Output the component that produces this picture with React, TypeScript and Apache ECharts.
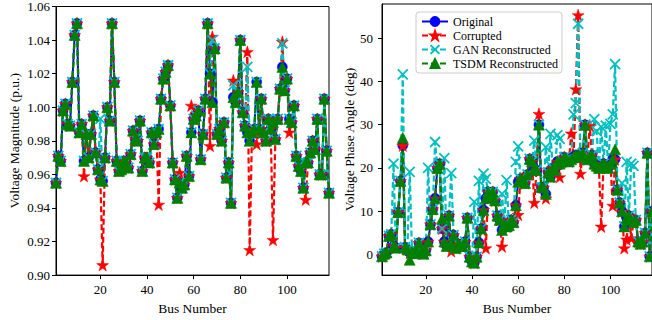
import React, { useEffect, useRef } from "react";
import * as echarts from "echarts";

// Bus index (categories)
const busNumbers: number[] = Array.from({ length: 118 }, (_, i) => i + 1);

// Tick labels
const xTicks = [20, 40, 60, 80, 100];
const vmTicks = [0.9, 0.92, 0.94, 0.96, 0.98, 1.0, 1.02, 1.04, 1.06];
const vaTicks = [0, 10, 20, 30, 40, 50];

const seriesNames = ["Original", "Corrupted", "GAN Reconstructed", "TSDM Reconstructed"];

// Voltage magnitude (p.u.)
const vmOriginal = [
  0.955, 0.971, 0.968, 0.998, 1.002, 0.990, 0.989, 1.015, 1.043, 1.050,
  0.985, 0.990, 0.968, 0.984, 0.970, 0.984, 0.995, 0.973, 0.963, 0.957,
  0.956, 0.970, 1.000, 0.992, 1.050, 1.015, 0.968, 0.962, 0.963, 0.968,
  0.967, 0.964, 0.972, 0.986, 0.981, 0.980, 0.992, 0.962, 0.970, 0.970,
  0.967, 0.985, 0.978, 0.985, 0.987, 1.005, 1.017, 1.021, 1.025, 1.001,
  0.967, 0.957, 0.946, 0.955, 0.952, 0.954, 0.971, 0.959, 0.985, 0.993,
  0.995, 0.998, 0.969, 0.984, 1.005, 1.050, 1.020, 1.003, 1.035, 0.984,
  0.987, 0.980, 0.991, 0.958, 0.967, 0.943, 1.006, 1.003, 1.009, 1.040,
  0.997, 0.989, 0.985, 0.980, 0.985, 0.987, 1.015, 0.987, 1.005, 0.985,
  0.980, 0.993, 0.987, 0.991, 0.981, 0.993, 1.011, 1.024, 1.010, 1.017,
  0.993, 0.991, 1.001, 0.971, 0.965, 0.962, 0.952, 0.967, 0.967, 0.973,
  0.980, 0.975, 0.993, 0.960, 0.960, 1.005, 0.974, 0.949,
];
const vmCorrupted = [
  0.955, 0.971, 0.968, 0.998, 1.002, 0.990, 0.989, 1.015, 1.043, 1.050,
  0.985, 0.990, 0.959, 0.984, 0.970, 0.984, 0.995, 0.973, 0.963, 0.957,
  0.906, 0.970, 1.000, 0.992, 1.050, 1.015, 0.968, 0.962, 0.963, 0.968,
  0.967, 0.964, 0.972, 0.986, 0.981, 0.980, 0.992, 0.962, 0.970, 0.970,
  0.967, 0.985, 0.978, 0.985, 0.942, 1.005, 1.017, 1.021, 1.025, 1.001,
  0.967, 0.957, 0.946, 0.961, 0.952, 0.954, 0.971, 0.959, 1.001, 0.993,
  0.995, 0.998, 0.969, 0.984, 1.005, 1.050, 0.977, 1.042, 1.035, 0.984,
  0.987, 0.980, 0.991, 0.958, 0.967, 0.943, 1.016, 1.003, 1.009, 1.040,
  0.997, 0.989, 1.033, 0.915, 0.985, 0.987, 0.978, 0.987, 1.005, 0.985,
  0.980, 0.993, 0.987, 0.921, 0.981, 0.993, 1.011, 1.039, 1.010, 1.017,
  0.985, 0.991, 1.001, 0.971, 0.965, 0.962, 0.952, 0.945, 0.967, 0.973,
  0.980, 0.975, 0.993, 0.960, 0.960, 1.005, 0.974, 0.949,
];
const vmGAN = [
  0.955, 0.971, 0.968, 0.998, 1.002, 0.990, 0.989, 1.015, 1.043, 1.050,
  0.985, 0.990, 0.968, 0.984, 0.970, 0.984, 0.995, 0.973, 0.963, 0.993,
  0.956, 0.970, 1.000, 0.992, 1.050, 1.015, 0.968, 0.962, 0.963, 0.968,
  0.967, 0.964, 0.972, 0.986, 0.981, 0.980, 0.992, 0.962, 0.970, 0.970,
  0.967, 0.985, 0.978, 0.985, 0.987, 1.005, 1.017, 1.021, 1.025, 1.001,
  0.967, 0.957, 0.946, 0.955, 0.952, 0.954, 0.971, 0.959, 0.985, 0.993,
  0.995, 0.998, 0.969, 0.984, 1.005, 1.050, 1.020, 1.040, 1.035, 0.984,
  0.987, 0.980, 0.991, 0.958, 0.967, 0.943, 1.013, 1.003, 1.009, 1.040,
  0.997, 0.989, 1.024, 0.980, 0.985, 0.987, 1.015, 0.987, 1.005, 0.985,
  0.980, 0.993, 0.987, 0.991, 0.981, 0.993, 1.011, 1.038, 1.010, 1.017,
  0.993, 0.991, 1.001, 0.971, 0.965, 0.962, 0.952, 0.967, 0.967, 0.973,
  0.980, 0.975, 0.993, 0.960, 0.960, 1.005, 0.974, 0.949,
];
const vmTSDM = [
  0.955, 0.971, 0.968, 0.998, 1.002, 0.990, 0.989, 1.015, 1.043, 1.050,
  0.985, 0.990, 0.968, 0.984, 0.970, 0.984, 0.995, 0.973, 0.963, 0.957,
  0.956, 0.970, 1.000, 0.992, 1.050, 1.015, 0.968, 0.962, 0.963, 0.968,
  0.967, 0.964, 0.972, 0.986, 0.981, 0.980, 0.992, 0.962, 0.970, 0.970,
  0.967, 0.985, 0.978, 0.985, 0.987, 1.005, 1.017, 1.021, 1.025, 1.001,
  0.967, 0.957, 0.946, 0.955, 0.952, 0.954, 0.971, 0.959, 0.985, 0.993,
  0.995, 0.998, 0.969, 0.984, 1.005, 1.050, 1.020, 1.003, 1.035, 0.984,
  0.987, 0.980, 0.991, 0.958, 0.967, 0.943, 1.006, 1.003, 1.009, 1.040,
  0.997, 0.989, 0.985, 0.980, 0.985, 0.987, 1.015, 0.987, 1.005, 0.985,
  0.980, 0.993, 0.987, 0.991, 0.981, 0.993, 1.011, 1.024, 1.010, 1.017,
  0.993, 0.991, 1.001, 0.971, 0.965, 0.962, 0.952, 0.967, 0.967, 0.973,
  0.980, 0.975, 0.993, 0.960, 0.960, 1.005, 0.974, 0.949,
];

// Voltage phase angle (deg)
const vaOriginal = [
  -0.4, 0.2, 0.5, 4.3, 4.7, 2.0, 1.6, 9.8, 17.0, 25.2,
  1.7, 1.2, 0.4, 0.5, 0.3, 0.9, 2.7, 0.6, 0.2, 1.0,
  3.0, 7.0, 10.5, 13.0, 20.0, 21.0, 6.0, 3.0, 2.0, 9.0,
  2.5, 4.5, 1.5, 2.5, 2.0, 2.0, 3.0, 8.5, -0.5, -1.6,
  -1.9, -0.5, 2.8, 6.0, 10.3, 13.0, 14.5, 13.5, 14.5, 12.5,
  9.0, 8.0, 5.7, 7.0, 6.5, 6.8, 8.0, 7.5, 11.4, 16.8,
  17.5, 17.2, 16.5, 18.5, 22.1, 21.5, 19.8, 19.5, 30.0, 15.6,
  15.5, 14.0, 19.0, 18.0, 20.0, 19.5, 21.5, 21.0, 21.5, 22.5,
  22.0, 21.5, 22.0, 22.5, 23.0, 23.0, 22.5, 23.5, 30.0, 22.0,
  22.5, 23.0, 21.0, 20.5, 20.0, 20.5, 21.0, 20.5, 20.0, 21.0,
  22.0, 22.0, 15.0, 12.0, 10.0, 6.5, 8.5, 9.0, 8.0, 7.5,
  8.0, 3.0, 2.5, 3.0, 5.0, 23.5, -0.4, 10.0,
];
const vaCorrupted = [
  -0.4, 0.2, 0.5, 4.3, 4.7, 2.0, 1.6, 9.8, 17.0, 25.2,
  1.7, 1.2, 0.4, 0.5, 0.3, 0.9, 2.7, 0.6, 0.2, 1.0,
  3.0, 7.0, 10.5, 13.0, 20.0, 21.0, 6.0, 3.0, 2.0, 9.0,
  0.8, 4.5, 1.5, 2.5, 2.0, 2.0, 3.0, 8.5, -0.5, -1.6,
  -1.9, -0.5, 2.8, 6.0, 10.3, 1.5, 14.5, 13.5, 14.5, 12.5,
  9.0, 8.0, 1.9, 7.0, 6.5, 6.8, 8.0, 7.5, 11.4, 9.2,
  17.5, 17.2, 16.5, 18.5, 22.1, 21.5, 12.0, 19.5, 32.5, 15.6,
  15.5, 13.0, 19.0, 18.0, 20.0, 19.5, 21.5, 17.9, 21.5, 22.5,
  22.0, 21.5, 28.0, 22.5, 38.2, 55.3, 18.7, 23.5, 30.0, 22.0,
  29.8, 23.0, 21.0, 20.5, 20.0, 6.5, 21.0, 20.5, 20.0, 21.0,
  11.3, 22.0, 15.0, 12.0, 10.0, 1.5, 3.5, 9.0, 3.8, 7.5,
  8.0, 3.0, 2.5, 3.0, 5.0, 23.5, -0.4, 10.0,
];
const vaGAN = [
  -0.4, 0.2, 0.5, 4.3, 4.7, 21.0, 1.6, 9.8, 17.0, 41.6,
  1.7, 1.2, 19.1, 0.5, 0.3, 0.9, 2.7, 0.6, 0.2, 1.0,
  20.0, 7.0, 10.5, 26.0, 20.0, 21.0, 6.0, 22.3, 2.0, 9.0,
  18.8, 4.5, 1.5, 2.5, 2.0, 2.0, 3.0, 8.5, -0.5, -1.6,
  12.2, -0.5, 17.0, 6.0, 18.7, 17.5, 14.5, 13.5, 14.5, 12.5,
  9.0, 8.0, 14.0, 7.0, 17.2, 6.8, 8.0, 7.5, 21.4, 25.0,
  17.5, 17.2, 16.5, 18.5, 22.1, 21.5, 26.3, 19.5, 30.0, 15.6,
  15.5, 24.8, 19.0, 27.9, 20.0, 19.5, 27.6, 26.7, 21.5, 22.5,
  22.0, 21.5, 22.0, 32.4, 35.0, 53.3, 22.5, 23.5, 30.0, 22.0,
  22.5, 23.0, 31.3, 28.5, 20.0, 29.5, 21.0, 29.8, 20.0, 30.2,
  32.4, 44.0, 15.0, 12.0, 16.5, 6.5, 21.4, 9.0, 21.0, 20.5,
  8.0, 3.0, 2.5, 3.0, 5.0, 23.5, -0.4, 10.0,
];
const vaTSDM = [
  -0.4, 0.2, 0.5, 4.3, 4.7, 2.0, 1.6, 9.8, 17.0, 27.0,
  1.7, 1.2, -1.2, 0.5, 0.3, 0.9, 2.7, 0.6, 0.2, 1.0,
  3.0, 7.0, 10.5, 13.0, 20.0, 21.0, 8.3, 3.0, 2.0, 9.0,
  2.5, 4.5, 1.5, 2.5, 2.0, 2.0, 3.0, 8.5, -0.5, -1.6,
  -1.9, -0.5, 2.8, 6.0, 10.3, 13.0, 14.5, 13.5, 14.5, 12.5,
  9.0, 8.0, 5.7, 7.0, 6.5, 6.8, 8.0, 7.5, 11.4, 16.8,
  17.5, 17.2, 16.5, 18.5, 22.1, 21.5, 19.8, 19.5, 30.0, 15.6,
  15.5, 14.0, 19.0, 18.0, 20.0, 19.5, 21.5, 21.0, 21.5, 22.5,
  22.0, 21.5, 22.0, 22.5, 23.0, 23.0, 22.5, 23.5, 30.0, 22.0,
  22.5, 23.0, 21.0, 20.5, 20.0, 20.5, 21.0, 20.5, 20.0, 21.0,
  22.0, 24.3, 15.0, 12.0, 10.0, 6.5, 8.5, 9.0, 8.0, 7.5,
  8.0, 3.0, 2.5, 3.0, 5.0, 23.5, -0.4, 10.0,
];

const FONT = "'Liberation Serif', 'Times New Roman', serif";
const STAR =
  "path://M50,2L61.8,36.2L97.6,36.2L68.6,57.3L79.4,91.4L50,70.3L20.6,91.4L31.4,57.3L2.4,36.2L38.2,36.2Z";
const XMARK = "path://M0,0L10,10M10,0L0,10";

type Style = {
  color: string;
  symbol: string;
  size: number;
  dashed: boolean;
  width: number;
  stroke?: boolean;
};

const styles: Style[] = [
  { color: "#0000ff", symbol: "circle", size: 10, dashed: false, width: 2 },
  { color: "#ff0000", symbol: STAR, size: 12, dashed: true, width: 2.2 },
  { color: "#00bfbf", symbol: XMARK, size: 10, dashed: true, width: 2.2, stroke: true },
  { color: "#008000", symbol: "triangle", size: 11, dashed: true, width: 2.2 },
];

function makeSeries(name: string, values: number[], idx: number, st: Style) {
  return {
    name,
    type: "line",
    xAxisIndex: idx,
    yAxisIndex: idx,
    data: busNumbers.map((b, i) => [b, values[i]]),
    symbol: st.symbol,
    symbolSize: st.size,
    showAllSymbol: true,
    clip: true,
    lineStyle: {
      color: st.color,
      width: st.width,
      type: st.dashed ? [6, 3] : "solid",
    },
    itemStyle: {
      color: st.stroke ? "rgba(0,0,0,0)" : st.color,
      borderColor: st.color,
      borderWidth: st.stroke ? 1.8 : 0.5,
    },
    emphasis: { disabled: true },
  };
}

function xAxis(gridIndex: number) {
  return {
    type: "value",
    gridIndex,
    min: 1,
    max: 118,
    name: "Bus Number",
    nameLocation: "middle",
    nameGap: 22,
    nameTextStyle: { fontFamily: FONT, fontSize: 13.5, color: "#000" },
    axisLine: { show: true, onZero: false, lineStyle: { color: "#000", width: 1 } },
    axisTick: { show: true, inside: false, length: 4, customValues: xTicks, lineStyle: { color: "#000" } },
    axisLabel: { customValues: xTicks, color: "#000", fontFamily: FONT, fontSize: 13, margin: 8 },
    splitLine: { show: false },
  };
}

export default function App() {
  const ref = useRef<HTMLDivElement>(null);

  useEffect(() => {
    if (!ref.current) return;
    const chart = echarts.init(ref.current, undefined, { renderer: "svg" });
    const vmSets = [vmOriginal, vmCorrupted, vmGAN, vmTSDM];
    const vaSets = [vaOriginal, vaCorrupted, vaGAN, vaTSDM];
    const series: any[] = [];
    seriesNames.forEach((n, i) => series.push(makeSeries(n, vmSets[i], 0, styles[i])));
    seriesNames.forEach((n, i) => series.push(makeSeries(n, vaSets[i], 1, styles[i])));

    chart.setOption({
      animation: false,
      backgroundColor: "#ffffff",
      textStyle: { fontFamily: FONT },
      grid: [
        { left: 56, top: 4, width: 273, height: 273, show: true, borderColor: "#000", borderWidth: 1, backgroundColor: "transparent" },
        { left: 382, top: 4, width: 273, height: 273, show: true, borderColor: "#000", borderWidth: 1, backgroundColor: "transparent" },
      ],
      xAxis: [xAxis(0), xAxis(1)],
      yAxis: [
        {
          type: "value",
          gridIndex: 0,
          min: 0.9,
          max: 1.06,
          name: "Voltage Magnitude (p.u.)",
          nameLocation: "middle",
          nameGap: 35,
          nameTextStyle: { fontFamily: FONT, fontSize: 13.5, color: "#000" },
          axisLine: { show: true, onZero: false, lineStyle: { color: "#000", width: 1 } },
          axisTick: { show: true, inside: false, length: 4, customValues: vmTicks, lineStyle: { color: "#000" } },
          axisLabel: {
            customValues: vmTicks,
            color: "#000",
            fontFamily: FONT,
            fontSize: 13,
            margin: 6,
            formatter: (v: number) => v.toFixed(2),
          },
          splitLine: { show: false },
        },
        {
          type: "value",
          gridIndex: 1,
          min: -4.73,
          max: 57.86,
          name: "Voltage Phase Angle (deg)",
          nameLocation: "middle",
          nameGap: 26,
          nameTextStyle: { fontFamily: FONT, fontSize: 13.5, color: "#000" },
          axisLine: { show: true, onZero: false, lineStyle: { color: "#000", width: 1 } },
          axisTick: { show: true, inside: false, length: 4, customValues: vaTicks, lineStyle: { color: "#000" } },
          axisLabel: {
            customValues: vaTicks,
            color: "#000",
            fontFamily: FONT,
            fontSize: 13,
            margin: 9,
            formatter: (v: number) => String(Math.round(v)),
          },
          splitLine: { show: false },
        },
      ],
      legend: {
        data: seriesNames,
        orient: "vertical",
        left: 416,
        top: 12,
        itemWidth: 26,
        itemHeight: 11,
        itemGap: 1,
        padding: [3, 4, 3, 5],
        backgroundColor: "rgba(255,255,255,0.85)",
        borderColor: "#cccccc",
        borderWidth: 1,
        borderRadius: 3,
        selectedMode: false,
        textStyle: { fontFamily: FONT, fontSize: 12, color: "#000", lineHeight: 13 },
      },
      series,
    });
    return () => chart.dispose();
  }, []);

  return (
    <div
      ref={ref}
      style={{ position: "fixed", left: 0, top: 0, width: 652, height: 320, background: "#fff" }}
    />
  );
}
